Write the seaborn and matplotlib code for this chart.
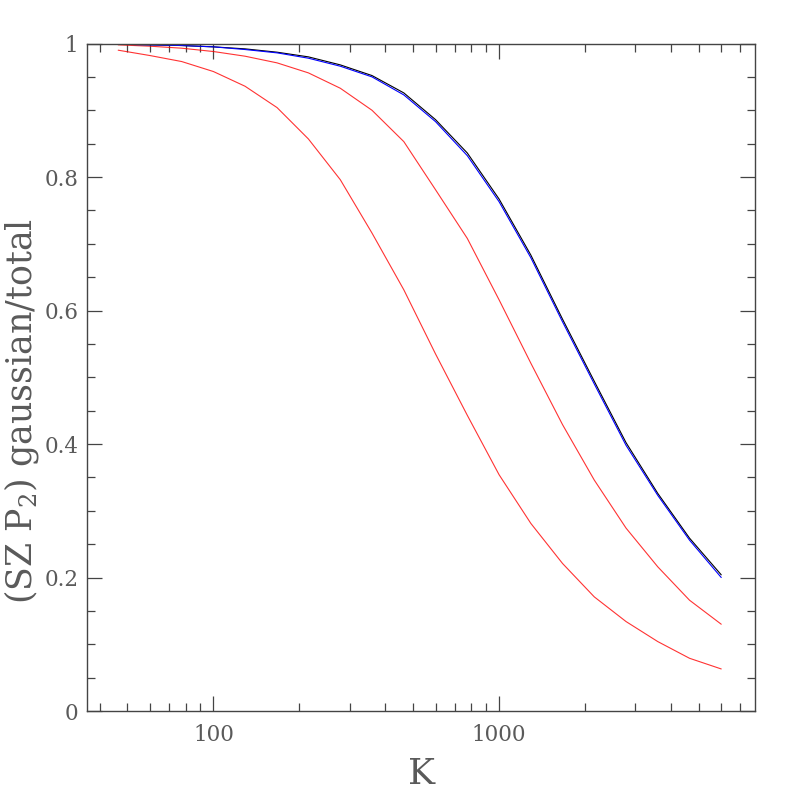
import numpy as np
import pandas as pd
import matplotlib
matplotlib.use("Agg")
import matplotlib.pyplot as plt
import seaborn as sns
from matplotlib.ticker import LogLocator, NullFormatter, MultipleLocator

# K bins (9 per decade)
k_vals = [46.4, 59.9, 77.4, 100, 129, 167, 215, 278, 359, 464,
          599, 774, 1000, 1292, 1668, 2154, 2783, 3594, 4642, 5995]

# ratio curves
black = [0.999, 0.998, 0.997, 0.995, 0.992, 0.987, 0.980, 0.968, 0.952, 0.926,
         0.886, 0.836, 0.767, 0.683, 0.587, 0.494, 0.402, 0.326, 0.259, 0.204]
blue = [0.999, 0.998, 0.997, 0.995, 0.991, 0.986, 0.978, 0.966, 0.950, 0.923,
        0.883, 0.832, 0.763, 0.679, 0.583, 0.490, 0.398, 0.323, 0.256, 0.200]
red_mid = [0.998, 0.996, 0.993, 0.988, 0.981, 0.971, 0.956, 0.933, 0.900, 0.853,
           0.781, 0.708, 0.616, 0.521, 0.429, 0.346, 0.274, 0.216, 0.166, 0.130]
red_low = [0.990, 0.982, 0.973, 0.958, 0.936, 0.904, 0.857, 0.796, 0.716, 0.631,
           0.535, 0.443, 0.354, 0.281, 0.221, 0.171, 0.134, 0.104, 0.079, 0.063]

sns.set_style("ticks")
plt.rcParams["font.family"] = ["DejaVu Serif"]
plt.rcParams["mathtext.fontset"] = "dejavuserif"

txt = "#5a5a5a"
axc = "#444444"

fig = plt.figure(figsize=(7.97, 7.97), dpi=100)
ax = fig.add_axes([0.1088, 0.1079, 0.9477 - 0.1088, 0.9454 - 0.1079])

# * draw the curves
for y, c in [(red_low, "red"), (red_mid, "red"), (black, "black"), (blue, "blue")]:
    sns.lineplot(x=k_vals, y=y, color=c, lw=0.8, ax=ax, alpha=0.8 if c == "red" else 1)

ax.set_xscale("log")
ax.set_xlim(36.0, 7890)
ax.set_ylim(0, 1)

ax.set_xticks([100, 1000], labels=["100", "1000"])
ax.xaxis.set_minor_locator(LogLocator(base=10, subs=np.arange(2, 10)))
ax.xaxis.set_minor_formatter(NullFormatter())
ax.set_yticks([0, 0.2, 0.4, 0.6, 0.8, 1.0], labels=["0", "0.2", "0.4", "0.6", "0.8", "1"])
ax.yaxis.set_minor_locator(MultipleLocator(0.05))

ax.tick_params(which="both", direction="in", top=True, right=True, color=axc, width=0.9)
ax.tick_params(which="major", length=11, labelsize=15.5, labelcolor=txt, pad=9)
ax.tick_params(axis="y", which="major", pad=6)
ax.tick_params(which="minor", length=5.5)

for s in ax.spines.values():
    s.set_color(axc)
    s.set_linewidth(1.0)

ax.set_xlabel("K", fontsize=26, color=txt, labelpad=8)
ax.set_ylabel("(SZ P$_2$) gaussian/total", fontsize=25, color=txt)
ax.yaxis.set_label_coords(-0.069, 0.45)

fig.savefig("out.png", dpi=100)
